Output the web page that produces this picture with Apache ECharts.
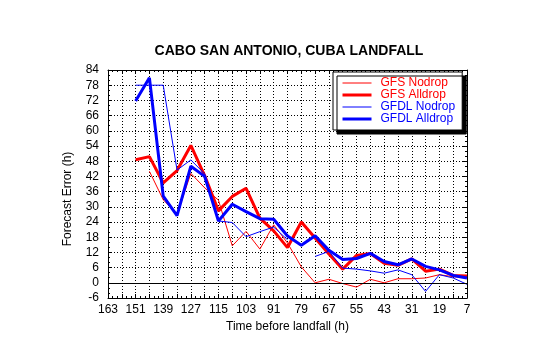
<!DOCTYPE html>
<html><head><meta charset="utf-8">
<script src="https://cdn.jsdelivr.net/npm/echarts@6/dist/echarts.min.js"></script>
<style>html,body{margin:0;padding:0;background:#fff}#c{width:540px;height:344px}</style>
</head><body><div id="c"></div>
<script>
// Hours before landfall (x values)
const hours = [151,145,139,133,127,121,115,109,103,97,91,85,79,73,67,61,55,49,43,37,31,25,19,13,7];
// Forecast error (h)
const gfsNodrop   = [null,44,32.8,27,43.2,37.5,32.6,14.6,20.3,13.3,22.9,15.7,6.3,0,1.4,-0.3,-1.7,1.4,0,1.6,1.6,1.9,3.2,2.4,2.2];
const gfsAlldrop  = [48.6,49.8,39.4,44.3,54.2,42.3,28.4,34.1,37.3,25.5,20.5,13.9,24,17.7,11.4,5.4,10.8,11.6,7.7,6.9,9.4,4.6,5.4,2.9,2.7];
const gfdlNodrop  = [78,78,78,44.5,48.5,43,24.4,23.8,18.2,20.2,22,17,null,10.4,12.4,5.8,5.4,4.7,3.8,5.1,3.2,-3.4,3.2,1.9,-0.6];
const gfdlAlldrop = [71.8,80.9,34.2,26.5,46,42,24.4,31,28.1,25.3,25.1,18.5,14.8,18.6,12.8,9.2,9.6,11.6,8.4,7.1,9.4,6.5,5.1,2.9,1.9];
// Axis ticks / labels
const xLabelValues = [163,151,139,127,115,103,91,79,67,55,43,31,19,7];
const xMajorTicks = []; for (let v = 163; v >= 7; v -= 6) xMajorTicks.push(v);
const xMinorTicks = []; for (let v = 163; v >= 7; v -= 2) xMinorTicks.push(v);
const yMin = -6, yMax = 84, yStep = 6;

const FONT = "'Liberation Sans', Arial, Helvetica, sans-serif";
const RED = '#ff0000', BLUE = '#0000ff';
const pair = arr => hours.map((h, i) => [h, arr[i]]);

function xAx(pos, ticks, len, main) {
  return {
    type: 'value', position: pos, min: 7, max: 163, inverse: true,
    axisLine: { show: !!main, onZero: false, lineStyle: { color: '#000', width: 1 } },
    axisTick: { show: true, inside: true, length: len, customValues: ticks, lineStyle: { color: '#000', width: 1 } },
    axisLabel: (main === 'label') ? { show: true, customValues: xLabelValues, margin: 6, color: '#000', fontSize: 12, fontFamily: FONT } : { show: false },
    splitLine: (main === 'label') ? { show: true, lineStyle: { color: '#000', width: 1, type: [1, 2] } } : { show: false },
    name: (main === 'label') ? 'Time before landfall (h)' : '',
    nameLocation: 'middle', nameGap: 21,
    nameTextStyle: { color: '#000', fontSize: 12, fontFamily: FONT }
  };
}
function yAx(pos, main) {
  return {
    type: 'value', position: pos, min: yMin, max: yMax, interval: yStep,
    axisLine: { show: true, onZero: false, lineStyle: { color: '#000', width: 1 } },
    axisTick: { show: true, inside: true, length: 4, lineStyle: { color: '#000', width: 1 } },
    minorTick: { show: true, splitNumber: 3, length: 2, lineStyle: { color: '#000', width: 1 } },
    axisLabel: main ? { show: true, margin: 9, color: '#000', fontSize: 12, fontFamily: FONT } : { show: false },
    splitLine: main ? { show: true, lineStyle: { color: '#000', width: 1, type: [1, 2] } } : { show: false },
    name: main ? 'Forecast Error (h)' : '',
    nameLocation: 'middle', nameGap: 34, nameRotate: 90,
    nameTextStyle: { color: '#000', fontSize: 12, fontFamily: FONT, padding: [0, 30, 0, 0] }
  };
}

const chart = echarts.init(document.getElementById('c'), null, { renderer: 'canvas' });
chart.setOption({
  animation: false,
  backgroundColor: '#fff',
  title: {
    text: 'CABO SAN ANTONIO, CUBA LANDFALL',
    left: 284, top: 39, textAlign: 'center',
    textStyle: { color: '#000', fontSize: 14, fontWeight: 'bold', fontFamily: FONT }
  },
  grid: { left: 108, right: 73, top: 70, bottom: 46, containLabel: false },
  legend: {
    orient: 'vertical', left: 333, top: 72,
    backgroundColor: '#fff', borderColor: '#000', borderWidth: 1,
    shadowColor: '#000', shadowBlur: 0, shadowOffsetX: 4, shadowOffsetY: 4,
    padding: [5, 7, 5, 8], itemGap: 0, itemWidth: 29, itemHeight: 11,
    itemStyle: { opacity: 0 },
    textStyle: { fontSize: 12, fontFamily: FONT, lineHeight: 11, padding: [0, 0, 0, 4] },
    data: [
      { name: 'GFS Nodrop', textStyle: { color: RED }, lineStyle: { color: RED, width: 1 }, itemStyle: { opacity: 0 } },
      { name: 'GFS Alldrop', textStyle: { color: RED }, lineStyle: { color: RED, width: 3 }, itemStyle: { opacity: 0 } },
      { name: 'GFDL Nodrop', textStyle: { color: BLUE }, lineStyle: { color: BLUE, width: 1 }, itemStyle: { opacity: 0 } },
      { name: 'GFDL Alldrop', textStyle: { color: BLUE }, lineStyle: { color: BLUE, width: 3 }, itemStyle: { opacity: 0 } }
    ]
  },
  xAxis: [
    xAx('bottom', xMajorTicks, 4, 'label'),
    xAx('bottom', xMinorTicks, 2, false),
    xAx('top', xMajorTicks, 4, true),
    xAx('top', xMinorTicks, 2, false)
  ],
  yAxis: [yAx('left', true), yAx('right', false)],
  series: [
    { name: 'GFS Nodrop', type: 'line', data: pair(gfsNodrop), symbol: 'none', connectNulls: false,
      lineStyle: { color: RED, width: 1 }, itemStyle: { color: RED },
      markLine: { silent: true, symbol: 'none', label: { show: false },
        lineStyle: { color: '#000', type: 'solid', width: 1 }, data: [{ yAxis: 0 }] } },
    { name: 'GFS Alldrop', type: 'line', data: pair(gfsAlldrop), symbol: 'none',
      lineStyle: { color: RED, width: 3 }, itemStyle: { color: RED } },
    { name: 'GFDL Nodrop', type: 'line', data: pair(gfdlNodrop), symbol: 'none', connectNulls: false,
      lineStyle: { color: BLUE, width: 1 }, itemStyle: { color: BLUE } },
    { name: 'GFDL Alldrop', type: 'line', data: pair(gfdlAlldrop), symbol: 'none',
      lineStyle: { color: BLUE, width: 3 }, itemStyle: { color: BLUE } }
  ]
});
</script>
</body></html>
